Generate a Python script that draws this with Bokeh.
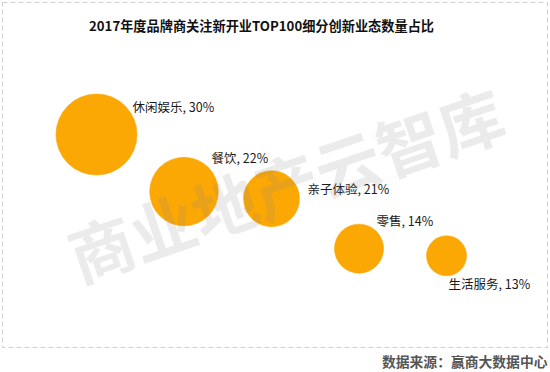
from bokeh.plotting import figure
from bokeh.models import ColumnDataSource, Range1d, Label, Title
from bokeh.embed import file_html
from bokeh.resources import INLINE
from bokeh.core.properties import value

# ---- data ----
categories = ["休闲娱乐", "餐饮", "亲子体验", "零售", "生活服务"]
shares = [30, 22, 21, 14, 13]              # y value and label percentage
bubble_size = [30, 21.5, 14.3, 11.0, 7.3]  # relative bubble areas
order = [1, 2, 3, 4, 5]                    # x position (category order)

# ---- layout/style settings ----
label_dx = [36, 27.5, 36, 17.5, 2]
label_dy = [-28.5, -33.8, -10.4, -27.7, 27.8]
max_diameter = 81
CJK = "Noto Sans CJK SC"

diam = [max_diameter * (s / max(bubble_size)) ** 0.5 for s in bubble_size]
labels = [f"{c}, {v}%" for c, v in zip(categories, shares)]

src = ColumnDataSource(dict(x=order, y=shares, d=diam, lab=labels,
                            dx=label_dx, dy=label_dy))

p = figure(width=550, height=372, output_backend="svg", toolbar_location=None,
           x_range=Range1d(-0.0743, 6.154), y_range=Range1d(0.138, 48.51),
           min_border_left=2, min_border_right=3, min_border_top=2,
           min_border_bottom=0)
p.axis.visible = False
p.xgrid.visible = False
p.ygrid.visible = False
p.background_fill_color = "white"
p.border_fill_color = "white"
p.outline_line_color = "#cfcfcf"
p.outline_line_dash = "5 3"
p.outline_line_width = 1

p.scatter(x="x", y="y", size="d", source=src, marker="circle",
          fill_color="#FBA704", line_color="#FBA704", line_alpha=0.6)

p.text(x="x", y="y", text="lab", source=src, x_offset="dx", y_offset="dy",
       text_font=value(CJK), text_font_size="12.5px", text_color="#1a1a1a",
       text_align="left", text_baseline="middle")

# title inside the frame
p.add_layout(Label(x=2.886, y=45.33, text="2017年度品牌商关注新开业TOP100细分创新业态数量占比",
                   text_font=CJK, text_font_size="13.2px", text_font_style="bold",
                   text_color="#111111", text_align="center", text_baseline="middle"))

# watermark
p.add_layout(Label(x=3.16, y=23.2, text="商业地产云智库", angle=0.33,
                   text_font=CJK, text_font_size="65px", text_font_style="bold",
                   text_color="#8a8a8a", text_alpha=0.17,
                   text_align="center", text_baseline="middle"))

# source note below the frame
p.add_layout(Title(text="数据来源：赢商大数据中心", align="right",
                   text_font=CJK, text_font_size="13.8px", text_font_style="bold",
                   text_color="#555555", standoff=3), "below")

open("out.html", "w").write(file_html(p, INLINE))
